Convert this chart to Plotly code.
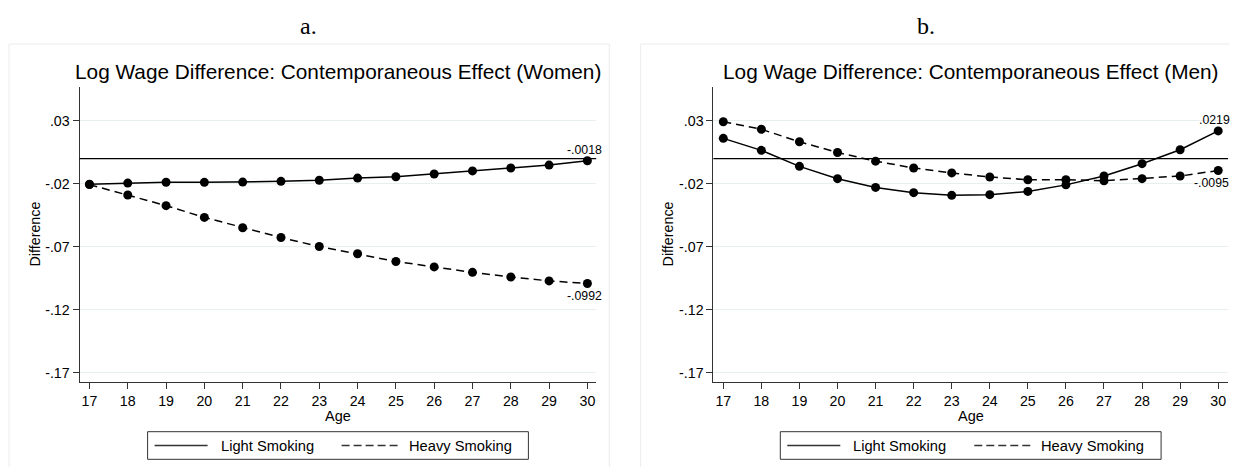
import plotly.graph_objects as go

# Page body has a default 8px margin; work in reference pixel coordinates
# and convert to paper coordinates of a figure shifted by that margin.
# Figure sized so the page does not overflow the window (no scrollbars).
W, H = 1238, 475
OFF = 8
WF, HF = W - 2 * OFF, H - 2 * OFF

# ---------------- data ----------------
ages = list(range(17, 31))
women_light = [-0.0204, -0.0195, -0.0188, -0.0189, -0.0187, -0.0181, -0.0172,
               -0.0155, -0.0145, -0.0123, -0.0098, -0.0075, -0.0052, -0.0018]
women_heavy = [-0.0207, -0.0289, -0.0374, -0.0467, -0.0549, -0.0627, -0.0698,
               -0.0756, -0.0817, -0.0860, -0.0903, -0.0940, -0.0971, -0.0992]
men_light = [0.0160, 0.0065, -0.0062, -0.0160, -0.0229, -0.0271, -0.0292,
             -0.0287, -0.0261, -0.0209, -0.0139, -0.0041, 0.0070, 0.0219]
men_heavy = [0.0292, 0.0232, 0.0133, 0.0048, -0.0021, -0.0075, -0.0114,
             -0.0147, -0.0168, -0.0168, -0.0176, -0.0160, -0.0139, -0.0095]

y_tickvals = [0.03, -0.02, -0.07, -0.12, -0.17]
y_ticktext = [".03", "-.02", "-.07", "-.12", "-.17"]
panel_letters = ["a.", "b."]
panel_titles = ["Log Wage Difference: Contemporaneous Effect (Women)",
                "Log Wage Difference: Contemporaneous Effect (Men)"]
series_names = ["Light Smoking", "Heavy Smoking"]


def fmt(v):
    s = f"{v:.4f}"
    return s.replace("0.", ".", 1)


def px(x):
    return (x - OFF) / WF


def py(y):
    return 1 - (y - OFF) / HF


FONT = "Liberation Sans, Arial, sans-serif"

fig = go.Figure()

panels = [
    dict(xa="x", ya="y", light=women_light, heavy=women_heavy,
         dom=[79.5, 596.2], xr=[16.74, 30.23], cx=338.0, frame=[9, 609.3],
         letter_x=308, lab_dx=(-3, -3)),
    dict(xa="x2", ya="y2", light=men_light, heavy=men_heavy,
         dom=[713.4, 1228.1], xr=[16.74, 30.26], cx=970.7, frame=[640.7, 1245],
         letter_x=926, lab_dx=(-4, -7)),
]

shapes = []
annotations = []

for i, p in enumerate(panels):
    fig.add_trace(go.Scatter(
        x=ages, y=p["light"], xaxis=p["xa"], yaxis=p["ya"],
        mode="lines+markers", name=series_names[0], showlegend=False,
        line=dict(color="black", width=1.5),
        marker=dict(color="black", size=9), cliponaxis=False))
    fig.add_trace(go.Scatter(
        x=ages, y=p["heavy"], xaxis=p["xa"], yaxis=p["ya"],
        mode="lines+markers", name=series_names[1], showlegend=False,
        line=dict(color="black", width=1.5, dash="8px,5px"),
        marker=dict(color="black", size=9), cliponaxis=False))

    # value labels at the last point of each series
    for vals, dy, dx in ((p["light"], 10.5, p["lab_dx"][0]),
                         (p["heavy"], -12, p["lab_dx"][1])):
        annotations.append(dict(text=fmt(vals[-1]), xref=p["xa"], yref=p["ya"],
                                x=ages[-1], y=vals[-1], xshift=dx,
                                yshift=dy, xanchor="center", yanchor="middle",
                                showarrow=False,
                                font=dict(family=FONT, size=12.3, color="black")))

    # zero reference line
    shapes.append(dict(type="line", xref=f"{p['xa']} domain", yref=p["ya"],
                       x0=0, x1=1, y0=0, y1=0,
                       line=dict(color="black", width=1.3), layer="above"))

    # panel frame
    shapes.append(dict(type="rect", xref="paper", yref="paper",
                       x0=px(p["frame"][0]), x1=px(p["frame"][1]),
                       y0=py(44), y1=py(490),
                       line=dict(color="#ececec", width=1), layer="below"))

    # legend box
    lx = p["cx"] - 190.4
    shapes.append(dict(type="rect", xref="paper", yref="paper",
                       x0=px(lx), x1=px(lx + 380.8), y0=py(459.3), y1=py(431.7),
                       line=dict(color="#333333", width=1)))
    shapes.append(dict(type="line", xref="paper", yref="paper",
                       x0=px(lx + 7), x1=px(lx + 60), y0=py(445.5), y1=py(445.5),
                       line=dict(color="#333333", width=1.3)))
    shapes.append(dict(type="line", xref="paper", yref="paper",
                       x0=px(lx + 194), x1=px(lx + 251), y0=py(445.5), y1=py(445.5),
                       line=dict(color="#333333", width=1.3, dash="8px,4px")))
    annotations.append(dict(text=series_names[0], xref="paper", yref="paper",
                            x=px(lx + 71), y=py(445.5), xanchor="left",
                            yanchor="middle", showarrow=False,
                            font=dict(family=FONT, size=14.7, color="black")))
    annotations.append(dict(text=series_names[1], xref="paper", yref="paper",
                            x=px(lx + 259), y=py(445.5), xanchor="left",
                            yanchor="middle", showarrow=False,
                            font=dict(family=FONT, size=14.7, color="black")))

    # titles
    annotations.append(dict(text=panel_titles[i], xref="paper", yref="paper",
                            x=px(p["cx"]), y=py(72), xanchor="center",
                            yanchor="middle", showarrow=False,
                            font=dict(family=FONT, size=20.8, color="black")))
    annotations.append(dict(text=panel_letters[i], xref="paper", yref="paper",
                            x=px(p["letter_x"]), y=py(26), xanchor="center",
                            yanchor="middle", showarrow=False,
                            font=dict(family="Liberation Serif, serif", size=24,
                                      color="black")))
    # axis titles
    annotations.append(dict(text="Age", xref="paper", yref="paper",
                            x=px(p["cx"]), y=py(416), xanchor="center",
                            yanchor="middle", showarrow=False,
                            font=dict(family=FONT, size=14.5, color="black")))
    annotations.append(dict(text="Difference", xref="paper", yref="paper",
                            x=px(p["dom"][0] - 45), y=py(234), xanchor="center",
                            yanchor="middle", showarrow=False, textangle=-90,
                            font=dict(family=FONT, size=14.3, color="black")))

axis_common_x = dict(
    tickmode="array", tickvals=ages, ticktext=[str(a) for a in ages],
    showline=True, linecolor="#333333", linewidth=1, ticks="outside",
    ticklen=6, tickcolor="#333333", showgrid=False, zeroline=False,
    tickfont=dict(family=FONT, size=14.2, color="black"))
axis_common_y = dict(
    tickmode="array", tickvals=y_tickvals, ticktext=y_ticktext,
    range=[-0.1771, 0.057], domain=[py(381.7), py(86.7)],
    showline=True, linecolor="#333333", linewidth=1, ticks="outside",
    ticklen=6, tickcolor="#333333", showgrid=True, gridcolor="#e8efef",
    gridwidth=1, zeroline=False,
    tickfont=dict(family=FONT, size=14.2, color="black"))

fig.update_layout(
    width=WF, height=HF,
    margin=dict(l=0, r=0, t=0, b=0),
    paper_bgcolor="white", plot_bgcolor="white",
    showlegend=False,
    xaxis=dict(axis_common_x, domain=[px(79.5), px(596.2)], range=panels[0]["xr"],
               anchor="y"),
    yaxis=dict(axis_common_y, anchor="x"),
    xaxis2=dict(axis_common_x, domain=[px(713.4), px(1228.1)], range=panels[1]["xr"],
                anchor="y2"),
    yaxis2=dict(axis_common_y, anchor="x2"),
    shapes=shapes,
    annotations=annotations,
)

fig.write_html("out.html")
